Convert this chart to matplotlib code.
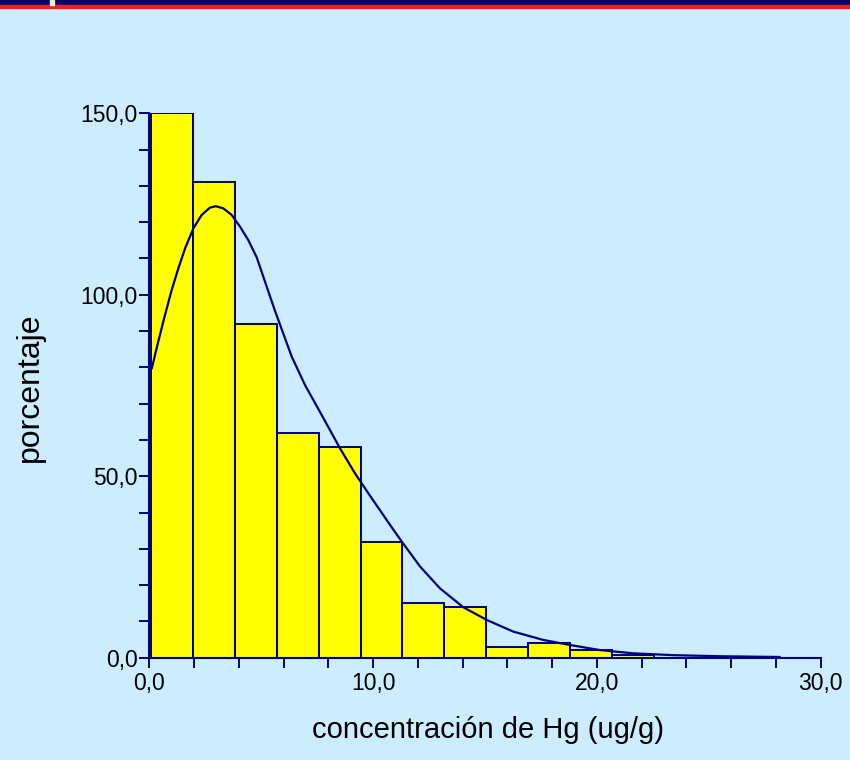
import matplotlib
matplotlib.use("Agg")
import matplotlib.pyplot as plt
from matplotlib.patches import Rectangle
from matplotlib.ticker import MultipleLocator, FuncFormatter

# histogram of Hg concentration (ug/g), bins
bin_start = 0.09
bin_width = 1.87
counts = [150, 131, 92, 62, 58, 32, 15, 14, 3, 4, 2, 0.8]

# fitted curve, points
curve_x = [0.0, 0.11, 0.40, 0.70, 1.00, 1.30, 1.60, 1.97, 2.34, 2.71, 2.97,
           3.31, 3.68, 4.05, 4.42, 4.80, 5.17, 5.62, 5.84, 6.36, 6.96, 7.70,
           8.52, 9.19, 9.94, 10.30, 10.80, 11.28, 12.10, 12.99, 14.03, 15.08,
           16.26, 17.60, 18.80, 20.14, 21.63, 23.41, 25.50, 28.16]
curve_y = [79.0, 79.7, 87.1, 94.4, 101.3, 107.3, 112.8, 118.3, 122.0, 124.0,
           124.4, 123.8, 122.0, 118.8, 115.1, 110.3, 103.6, 95.5, 91.8, 83.0,
           75.1, 66.9, 57.7, 50.8, 43.9, 40.7, 36.2, 32.0, 25.1, 19.1, 13.9,
           10.4, 7.2, 4.9, 3.5, 2.1, 1.2, 0.7, 0.4, 0.2]

x_label = 'concentración de Hg (ug/g)'
y_label = 'porcentaje'

BG = '#CCECFF'
NAVY = '#000080'

plt.rcParams['font.family'] = ['Liberation Sans', 'DejaVu Sans']

fig = plt.figure(figsize=(8.5, 7.6), dpi=100, facecolor=BG)

# slide header strip
fig.patches.append(Rectangle((0, 1 - 5 / 760), 1, 5 / 760, transform=fig.transFigure,
                             color='#000066', zorder=0))
fig.patches.append(Rectangle((0, 1 - 8 / 760), 1, 3 / 760, transform=fig.transFigure,
                             color='#FF1A1A', zorder=0))
fig.patches.append(Rectangle((50 / 850, 1 - 5 / 760), 4 / 850, 5 / 760,
                             transform=fig.transFigure, color='#EEEEDD', zorder=1))

ax = fig.add_axes([149.3 / 850, 1 - 657.7 / 760, 671.4 / 850, 544.4 / 760])
ax.set_facecolor(BG)

lefts = [bin_start + i * bin_width for i in range(len(counts))]
ax.bar(lefts, counts, width=bin_width, align='edge', color='#FFFF00',
       edgecolor=NAVY, linewidth=1.4, zorder=2)
ax.plot(curve_x, curve_y, color=NAVY, linewidth=1.6, zorder=3,
        solid_joinstyle='round')

ax.set_xlim(0, 30)
ax.set_ylim(0, 150)

for s in ['top', 'right']:
    ax.spines[s].set_visible(False)
for s in ['left', 'bottom']:
    ax.spines[s].set_color(NAVY)
    ax.spines[s].set_linewidth(1.5)

ax.xaxis.set_major_locator(MultipleLocator(10))
ax.xaxis.set_minor_locator(MultipleLocator(2))
ax.yaxis.set_major_locator(MultipleLocator(50))
ax.yaxis.set_minor_locator(MultipleLocator(10))
fmt = FuncFormatter(lambda v, p: f'{v:.1f}'.replace('.', ','))
ax.xaxis.set_major_formatter(fmt)
ax.yaxis.set_major_formatter(fmt)

ax.tick_params(which='both', direction='out', length=7, width=1.4, color=NAVY)
ax.tick_params(axis='x', which='major', labelsize=16.5, pad=3)
ax.tick_params(axis='y', which='major', labelsize=16.5, pad=1.5)

fig.text(488 / 850, 1 - 730 / 760, x_label, ha='center', va='center', fontsize=21)
fig.text(30 / 850, 1 - 387 / 760, y_label, ha='center', va='center', fontsize=23,
         rotation=90)

fig.savefig('out.png', dpi=100, facecolor=BG)
